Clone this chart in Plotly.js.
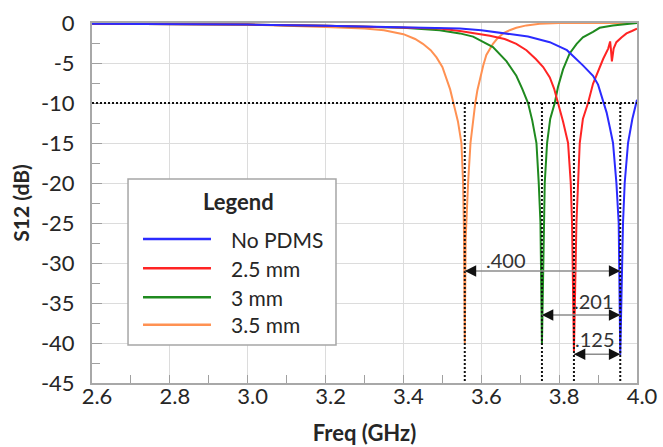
<!DOCTYPE html>
<html><head><meta charset="utf-8">
<script src="https://cdn.plot.ly/plotly-3.0.1.min.js"></script>
<style>html,body{margin:0;padding:0;background:#fff}#chart{width:663px;height:447px}</style>
</head><body><div id="chart"></div>
<script>
// ---- data ----
const seriesNames = ['No PDMS', '2.5 mm', '3 mm', '3.5 mm'];

const freqNoPDMS = [2.6, 2.8, 3.0, 3.2, 3.4, 3.545, 3.6, 3.66, 3.72, 3.776, 3.82, 3.861, 3.887, 3.9, 3.912, 3.922, 3.93, 3.9384, 3.9471, 3.953, 3.957, 3.9641, 3.9684, 3.977, 3.988, 4.0];
const s12NoPDMS  = [-0.1, -0.15, -0.2, -0.35, -0.5, -0.7, -0.9, -1.3, -1.7, -2.4, -3.4, -5.3, -6.6, -7.7, -9.5, -11.2, -13.0, -15, -20, -25, -41.5, -25, -20, -15, -12, -9.6];

const freq25 = [2.6, 2.8, 3.0, 3.2, 3.4, 3.493, 3.545, 3.596, 3.622, 3.66, 3.69, 3.716, 3.74, 3.759, 3.776, 3.787, 3.7972, 3.81, 3.8229, 3.8298, 3.8331, 3.838, 3.8444, 3.8485, 3.8529, 3.861, 3.8742, 3.887, 3.9, 3.913, 3.926, 3.931, 3.933, 3.9355, 3.94, 3.947, 3.96, 3.973, 3.987, 4.0];
const s1225  = [-0.1, -0.15, -0.2, -0.35, -0.55, -0.7, -1.0, -1.35, -1.6, -2.0, -2.6, -3.4, -4.5, -5.5, -6.8, -8.2, -10, -12.3, -15, -20, -25, -41, -25, -20, -15, -12, -10, -7.6, -6.0, -4.5, -3.2, -2.3, -3.3, -4.8, -3.2, -2.4, -1.8, -1.3, -1.0, -0.7];

const freq30 = [2.6, 2.8, 3.0, 3.2, 3.4, 3.493, 3.519, 3.545, 3.579, 3.596, 3.63, 3.665, 3.69, 3.705, 3.7201, 3.731, 3.7417, 3.7476, 3.752, 3.7558, 3.7605, 3.763, 3.769, 3.777, 3.7887, 3.797, 3.81, 3.827, 3.845, 3.861, 3.887, 3.904, 3.938, 3.97, 4.0];
const s1230  = [-0.1, -0.15, -0.2, -0.35, -0.6, -0.9, -1.1, -1.3, -1.7, -2.1, -3.0, -4.8, -6.6, -8.2, -10, -12.2, -15, -20, -25, -40.2, -25, -20, -15, -12, -10, -8.0, -5.8, -3.8, -2.6, -1.8, -1.1, -0.6, -0.3, -0.1, 0];

const freq35 = [2.6, 2.8, 3.0, 3.2, 3.3, 3.35, 3.4, 3.43, 3.45, 3.47, 3.485, 3.5, 3.511, 3.52, 3.528, 3.54, 3.549, 3.5533, 3.5555, 3.5576, 3.5598, 3.5625, 3.5661, 3.5723, 3.579, 3.5846, 3.59, 3.596, 3.605, 3.613, 3.622, 3.63, 3.64, 3.656, 3.673, 3.69, 3.716, 3.75, 3.8, 3.9, 4.0];
const s1235  = [-0.1, -0.15, -0.2, -0.5, -0.7, -0.9, -1.4, -2.0, -2.6, -3.4, -4.3, -5.5, -7.0, -8.3, -9.9, -12.3, -15, -20, -26, -40, -27, -23, -20, -15, -11.8, -10, -8.4, -7.0, -5.3, -4.0, -3.2, -2.6, -2.0, -1.3, -0.9, -0.6, -0.3, -0.1, 0, 0, 0];

const thresholdDb = -10;
const dipFreqs = [3.957, 3.838, 3.7558, 3.5576];        // resonance of each series
const arrowStartFreqs = [3.5576, 3.7558, 3.838];         // shifted resonances
const arrowEndFreq = 3.957;                               // No PDMS resonance
const arrowDb = [-31, -36.5, -41.4];
const shiftLabels = ['.400', '.201', '.125'];
const shiftLabelFreqs = [3.664, 3.890, 3.893];
const shiftLabelDb = [-29.6, -34.7, -39.5];

const xTickVals = [2.6, 2.8, 3.0, 3.2, 3.4, 3.6, 3.8, 4.0];
const xTickText = ['2.6', '2.8', '3.0', '3.2', '3.4', '3.6', '3.8', '4.0'];
const yTickVals = [0, -5, -10, -15, -20, -25, -30, -35, -40, -45];
const yTickText = ['0', '-5', '-10', '-15', '-20', '-25', '-30', '-35', '-40', '-45'];
const legendTitle = 'Legend';

// ---- chart ----
const FONT = 'Lato, "Open Sans", sans-serif';
const TXT = '#262626';
const colors = ['#2b2bff', '#ff2424', '#1f8a1f', '#ff9152'];
const xs = [freqNoPDMS, freq25, freq30, freq35];
const ys = [s12NoPDMS, s1225, s1230, s1235];

const traces = seriesNames.map((n, i) => ({
  type: 'scatter', mode: 'lines', name: n, x: xs[i], y: ys[i],
  line: {color: colors[i], width: 2}, showlegend: false
}));
const ordered = [traces[3], traces[2], traces[1], traces[0]];

const DOT = {color: '#111', width: 2, dash: '2px,2px'};
const shapes = [];
shapes.push({type: 'line', xref: 'x', yref: 'y', x0: xTickVals[0], x1: xTickVals[xTickVals.length - 1],
  y0: thresholdDb, y1: thresholdDb, line: DOT});
dipFreqs.forEach(f => shapes.push({type: 'line', xref: 'x', yref: 'y', x0: f, x1: f,
  y0: thresholdDb, y1: yTickVals[yTickVals.length - 1], line: DOT}));
arrowStartFreqs.forEach((f, i) => shapes.push({type: 'line', xref: 'x', yref: 'y', x0: f, x1: arrowEndFreq,
  y0: arrowDb[i], y1: arrowDb[i], line: {color: '#8c8c8c', width: 1.5}}));

const annotations = [];
arrowStartFreqs.forEach((f, i) => {
  annotations.push({x: f, y: arrowDb[i], xref: 'x', yref: 'y', text: '', showarrow: true,
    ax: 9, ay: 0, arrowhead: 2, arrowsize: 1.9, arrowwidth: 1.2, arrowcolor: '#111', standoff: 0});
  annotations.push({x: arrowEndFreq, y: arrowDb[i], xref: 'x', yref: 'y', text: '', showarrow: true,
    ax: -9, ay: 0, arrowhead: 2, arrowsize: 1.9, arrowwidth: 1.2, arrowcolor: '#111', standoff: 0});
  annotations.push({x: shiftLabelFreqs[i], y: shiftLabelDb[i], xref: 'x', yref: 'y', text: shiftLabels[i],
    showarrow: false, font: {family: FONT, size: 20, color: '#333'}});
});

// legend box (drawn by hand to match the reference spacing)
const LG = {x0: 0.0661, x1: 0.4477, y0: 0.1056, y1: 0.5667, lineX0: 0.0936, lineX1: 0.2183, textX: 0.2514,
  titleX: 0.2697, titleY: 0.503, rows: [0.400, 0.3186, 0.2381, 0.1619]};
shapes.push({type: 'rect', xref: 'paper', yref: 'paper', x0: LG.x0, x1: LG.x1, y0: LG.y0, y1: LG.y1,
  fillcolor: '#fff', line: {color: '#a6a6a6', width: 1.5}, layer: 'above'});
annotations.push({xref: 'paper', yref: 'paper', x: LG.titleX, y: LG.titleY, text: '<b>' + legendTitle + '</b>',
  showarrow: false, xanchor: 'center', yanchor: 'middle', font: {family: FONT, size: 22, color: TXT}});
seriesNames.forEach((n, i) => {
  shapes.push({type: 'line', xref: 'paper', yref: 'paper', x0: LG.lineX0, x1: LG.lineX1,
    y0: LG.rows[i], y1: LG.rows[i], line: {color: colors[i], width: 2.5}, layer: 'above'});
  annotations.push({xref: 'paper', yref: 'paper', x: LG.textX, y: LG.rows[i], text: n, showarrow: false,
    xanchor: 'left', yanchor: 'middle', font: {family: FONT, size: 21, color: TXT}});
});

const axisCommon = {
  showgrid: true, gridcolor: '#dcdcdc', gridwidth: 1, zeroline: false,
  showline: true, linecolor: '#a8a8a8', linewidth: 2, mirror: true,
  ticks: 'inside', tickcolor: '#a0a0a0', tickwidth: 1,
  tickfont: {family: FONT, size: 22, color: TXT}
};

const layout = {
  width: 663, height: 447,
  margin: {l: 92, r: 26, t: 23, b: 64},
  paper_bgcolor: '#fff', plot_bgcolor: '#fff',
  showlegend: false,
  xaxis: Object.assign({}, axisCommon, {
    range: [2.6, 4.0], tickmode: 'array', tickvals: xTickVals, ticktext: xTickText, ticklen: 8,
    ticklabelshift: 5, ticklabelstandoff: -7,
    minor: {tickmode: 'linear', tick0: 2.6, dtick: 0.1, ticks: 'inside', ticklen: 8, tickcolor: '#a0a0a0', showgrid: false},
    title: {text: '<b>Freq (GHz)</b>', font: {family: FONT, size: 22, color: TXT}, standoff: 17}
  }),
  yaxis: Object.assign({}, axisCommon, {
    range: [-45, 0], tickmode: 'array', tickvals: yTickVals, ticktext: yTickText, ticklen: 10,
    ticklabelstandoff: 11,
    minor: {tickmode: 'linear', tick0: 0, dtick: 2.5, ticks: 'inside', ticklen: 8, tickcolor: '#a0a0a0', showgrid: false},
    title: {text: '<b>S12 (dB)</b>', font: {family: FONT, size: 21, color: TXT}, standoff: 6}
  }),
  shapes: shapes,
  annotations: annotations
};

Plotly.newPlot('chart', ordered, layout, {displayModeBar: false, staticPlot: true});
</script>
</body></html>
